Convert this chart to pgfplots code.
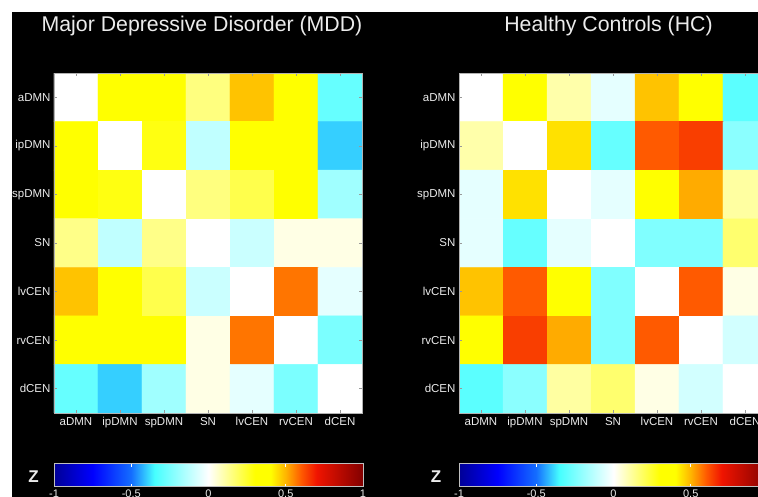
\documentclass[border=0pt]{standalone}
\usepackage{pgfplots}
\pgfplotsset{compat=1.18}
\usepackage{fontspec}
\setmainfont{Liberation Sans}
\definecolor{lbl}{gray}{0.92}
\pgfplotsset{
  colormap={zmap}{rgb255(0pt)=(0,0,150); rgb255(25pt)=(0,0,255); rgb255(50pt)=(20,110,255); rgb255(65pt)=(70,255,255); rgb255(100pt)=(255,255,255); rgb255(130pt)=(255,255,0); rgb255(140pt)=(255,255,0); rgb255(150pt)=(255,180,0); rgb255(160pt)=(255,90,0); rgb255(170pt)=(240,20,0); rgb255(200pt)=(130,0,0)},
  heat/.style={
    scale only axis, width=308pt, height=340pt, anchor=south west,
    axis background/.style={fill=white},
    colormap name=zmap, point meta min=-1, point meta max=1,
    xmin=-0.5, xmax=6.5, ymin=-0.5, ymax=6.5, y dir=reverse,
    enlargelimits=false, axis on top,
    xtick={0,...,6}, ytick={0,...,6},
    xticklabels={aDMN,ipDMN,spDMN,SN,lvCEN,rvCEN,dCEN},
    yticklabels={aDMN,ipDMN,spDMN,SN,lvCEN,rvCEN,dCEN},
    tick align=inside, major tick length=3pt,
    tick style={draw=white!60!black, line width=0.5pt},
    axis line style={draw=white!70!black, line width=0.6pt},
    ticklabel style={text=lbl, font=\fontsize{11.5}{13}\selectfont},
    xticklabel style={yshift=-1pt},
    colorbar horizontal,
    colorbar/width=23pt,
    colorbar style={
      anchor=south west, scale only axis, width=309pt, height=23pt,
      axis background/.style={fill=none},
      xtick={-1,-0.5,0,0.5,1}, xticklabels={-1,-0.5,0,0.5,1},
      xtick pos=both,
      ytick=\empty,
      tick align=inside, major tick length=3pt,
      tick style={draw=white, line width=0.6pt},
      axis line style={draw=white!75!black, line width=0.6pt},
      ticklabel style={text=lbl, font=\fontsize{11}{13}\selectfont},
    },
  },
}
\begin{document}
\begin{tikzpicture}[x=1pt,y=1pt]
\useasboundingbox (0,0) rectangle (758,497);
\fill[white] (0,0) rectangle (758,497);
\fill[black] (12,0) rectangle (758,485);
\coordinate (cbA) at (54pt,19pt);
\coordinate (cbB) at (459pt,19pt);
\node[anchor=base, text=lbl, font=\fontsize{21.3}{24}\selectfont] at (202,465) {Major Depressive Disorder (MDD)};
\node[anchor=base, text=lbl, font=\fontsize{21.3}{24}\selectfont] at (608.5,465) {Healthy Controls (HC)};
\node[text=lbl, font=\bfseries\fontsize{17}{20}\selectfont] at (33.5,20.5) {Z};
\node[text=lbl, font=\bfseries\fontsize{17}{20}\selectfont] at (436,20.5) {Z};
\begin{axis}[heat, at={(54pt,84pt)}, colorbar style={at={(cbA)}}]
\addplot[matrix plot*, shader=faceted, faceted color=mapped color, mesh/cols=7, point meta=explicit] table[x=x,y=y,meta=z]{
x y z
0 0 0
1 0 0.35
2 0 0.35
3 0 0.15
4 0 0.48
5 0 0.35
6 0 -0.29
0 1 0.35
1 1 0
2 1 0.28
3 1 -0.12
4 1 0.35
5 1 0.35
6 1 -0.40
0 2 0.35
1 2 0.28
2 2 0
3 2 0.15
4 2 0.21
5 2 0.35
6 2 -0.18
0 3 0.14
1 3 -0.12
2 3 0.14
3 3 0
4 3 -0.10
5 3 0.03
6 3 0.03
0 4 0.48
1 4 0.35
2 4 0.21
3 4 -0.10
4 4 0
5 4 0.57
6 4 -0.05
0 5 0.35
1 5 0.35
2 5 0.35
3 5 0.03
4 5 0.57
5 5 0
6 5 -0.25
0 6 -0.29
1 6 -0.40
2 6 -0.18
3 6 0.03
4 6 -0.05
5 6 -0.25
6 6 0
};
\end{axis}
\begin{axis}[heat, at={(459pt,84pt)}, colorbar style={at={(cbB)}}]
\addplot[matrix plot*, shader=faceted, faceted color=mapped color, mesh/cols=7, point meta=explicit] table[x=x,y=y,meta=z]{
x y z
0 0 0
1 0 0.35
2 0 0.10
3 0 -0.05
4 0 0.48
5 0 0.35
6 0 -0.31
0 1 0.10
1 1 0
2 1 0.44
3 1 -0.29
4 1 0.60
5 1 0.64
6 1 -0.22
0 2 -0.05
1 2 0.44
2 2 0
3 2 -0.05
4 2 0.35
5 2 0.51
6 2 0.11
0 3 -0.05
1 3 -0.29
2 3 -0.05
3 3 0
4 3 -0.24
5 3 -0.24
6 3 0.17
0 4 0.48
1 4 0.60
2 4 0.35
3 4 -0.24
4 4 0
5 4 0.60
6 4 0.03
0 5 0.35
1 5 0.64
2 5 0.51
3 5 -0.24
4 5 0.60
5 5 0
6 5 -0.085
0 6 -0.31
1 6 -0.22
2 6 0.11
3 6 0.17
4 6 0.03
5 6 -0.085
6 6 0
};
\end{axis}
\end{tikzpicture}
\end{document}
